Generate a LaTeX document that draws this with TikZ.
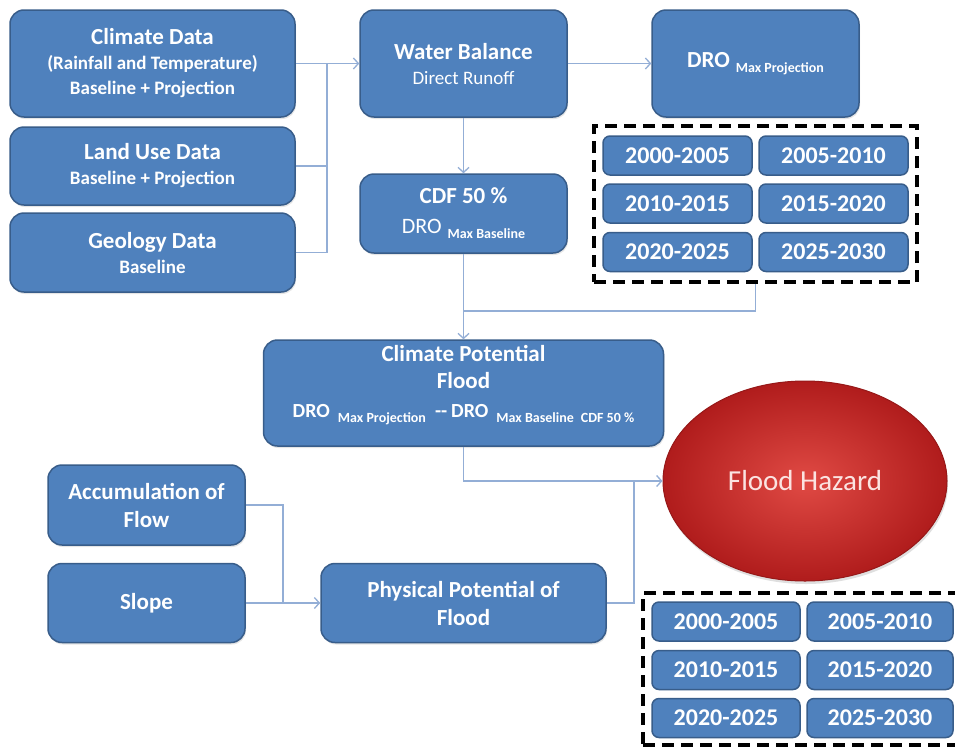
\documentclass[tikz,border=0pt]{standalone}
\usepackage{fontspec}
\setmainfont{Carlito}
\usetikzlibrary{arrows.meta,shapes.geometric,shadows}
\definecolor{boxblue}{HTML}{4F81BD}
\definecolor{boxedge}{HTML}{385D8A}
\definecolor{linkc}{HTML}{93AED6}
\definecolor{redin}{HTML}{E04A44}
\definecolor{redout}{HTML}{B01C1C}
\definecolor{hazardtxt}{HTML}{FBE3E1}
\newcommand{\subline}[1]{{\fontsize{19}{25}\selectfont #1}}
\newcommand{\lowtxt}[1]{\raisebox{-5pt}{\fontsize{14}{14}\selectfont #1}}
\begin{document}
\begin{tikzpicture}[x=1pt,y=-1pt,
  box/.style={draw=boxedge, line width=1.5pt, fill=boxblue, rounded corners=14pt,
    text=white, font=\bfseries\fontsize{23}{25}\selectfont, align=center, inner sep=0pt,
    drop shadow={opacity=0.2, shadow xshift=1pt, shadow yshift=-2pt}},
  yr/.style={draw=boxedge, line width=1.5pt, fill=boxblue, rounded corners=7pt,
    text=white, font=\bfseries\fontsize{24}{25}\selectfont, inner sep=0pt,
    minimum width=149pt, minimum height=39pt},
  link/.style={draw=linkc, line width=1.3pt},
  arr/.style={link, -{Straight Barb[length=5pt,width=11pt]}},
  dbox/.style={draw=black, line width=3.6pt, dash pattern=on 12pt off 7pt, fill=white, inner sep=0pt},
]
\useasboundingbox (0,0) rectangle (955,747);
\fill[white] (0,0) rectangle (955,747);

% left input boxes
\node[box, minimum width=285pt, minimum height=107pt] (clim) at (152.5,63.5)
  {Climate Data\\ \subline{(Rainfall and Temperature)}\\ \subline{Baseline + Projection}};
\node[box, minimum width=285pt, minimum height=78pt] (land) at (152.5,166)
  {Land Use Data\\ \subline{Baseline + Projection}};
\node[box, minimum width=285pt, minimum height=79pt] (geo) at (152.5,252.5)
  {Geology Data\\ \subline{Baseline}};

% middle column
\node[box, minimum width=207pt, minimum height=107pt] (wb) at (463.5,63.5)
  {Water Balance\\ {\mdseries\fontsize{19}{25}\selectfont Direct Runoff}};
\node[box, minimum width=207pt, minimum height=107pt] (dro) at (755.5,63.5)
  {DRO\hspace{6pt}\lowtxt{Max Projection}};
\node[box, minimum width=207pt, minimum height=79pt] (cdf) at (463.5,213.5)
  {CDF 50 \%\\[5pt] {\mdseries\fontsize{22}{25}\selectfont DRO}\hspace{6pt}\lowtxt{Max Baseline}};

% top years
\node[dbox, minimum width=323pt, minimum height=156pt] (td) at (755.5,204) {};
\node[yr] (t1) at (677.5,155.5) {2000-2005};
\node[yr] (t2) at (833.5,155.5) {2005-2010};
\node[yr] (t3) at (677.5,203.5) {2010-2015};
\node[yr] (t4) at (833.5,203.5) {2015-2020};
\node[yr] (t5) at (677.5,252) {2020-2025};
\node[yr] (t6) at (833.5,252) {2025-2030};

% climate potential flood
\node[box, minimum width=400pt, minimum height=106pt] (cpf) at (463.5,393)
  {Climate Potential\\[2pt] Flood\\[4pt]
   {\fontsize{20}{25}\selectfont DRO}\hspace{8pt}\lowtxt{Max Projection}\hspace{9pt}{\fontsize{20}{25}\selectfont -{}-\hspace{4pt}DRO}\hspace{8pt}\lowtxt{Max Baseline\hspace{7pt}CDF 50 \%}\\[-2pt]};

% flood hazard
\node[ellipse, minimum width=284pt, minimum height=200pt, draw=redout!85!black, line width=1pt,
  inner color=redin, outer color=redout, text=hazardtxt,
  font=\fontsize{29}{30}\selectfont,
  drop shadow={opacity=0.25, shadow xshift=1pt, shadow yshift=-3pt}] (fh) at (805,481) {Flood Hazard};

% bottom-left
\node[box, minimum width=197pt, minimum height=80pt] (acc) at (146.5,505)
  {Accumulation of\\[3pt] Flow};
\node[box, minimum width=197pt, minimum height=79pt] (slope) at (146.5,603) {Slope};
\node[box, minimum width=285pt, minimum height=79pt] (phys) at (463.5,603)
  {Physical Potential of\\[3pt] Flood};

% bottom years
\node[dbox, minimum width=320pt, minimum height=152pt] (bd) at (803,669) {};
\node[yr, minimum width=148pt] (b1) at (726,621.5) {2000-2005};
\node[yr, minimum width=146pt] (b2) at (880,621.5) {2005-2010};
\node[yr, minimum width=148pt] (b3) at (726,670) {2010-2015};
\node[yr, minimum width=146pt] (b4) at (880,670) {2015-2020};
\node[yr, minimum width=148pt] (b5) at (726,718) {2020-2025};
\node[yr, minimum width=146pt] (b6) at (880,718) {2025-2030};

% connectors
\coordinate (bus) at (327,63.5);
\coordinate (j1) at (463.5,311);
\coordinate (j2) at (634,481);
\coordinate (j3) at (283,603);
\draw[arr] (clim.east) -- (wb.west);
\draw[link] (bus) -- (bus |- geo.east);
\draw[link] (land.east) -- (land.east -| bus);
\draw[link] (geo.east) -- (geo.east -| bus);
\draw[arr] (wb.east) -- (dro.west);
\draw[arr] (wb.south) -- (cdf.north);
\draw[arr] (cdf.south) -- (cpf.north);
\draw[link] (td.south) |- (j1);
\draw[arr] (cpf.south) |- (fh.west);
\draw[link] (phys.east) -| (j2);
\draw[link] (acc.east) -| (j3);
\draw[arr] (slope.east) -- (phys.west);
\end{tikzpicture}
\end{document}
